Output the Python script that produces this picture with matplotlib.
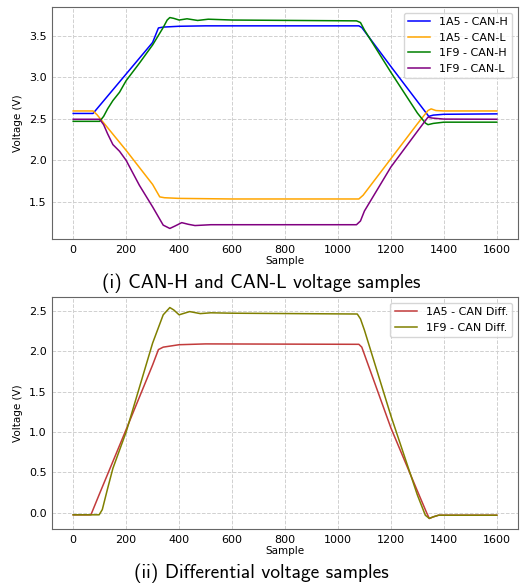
import matplotlib.pyplot as plt
import numpy as np

# samples (sample index, volts)
h1a5_x = [0, 75, 100, 200, 300, 322, 340, 400, 500, 1079, 1090, 1200, 1300, 1343, 1360, 1400, 1600]
h1a5_y = [2.565, 2.565, 2.66, 3.04, 3.42, 3.595, 3.605, 3.615, 3.62, 3.62, 3.60, 3.13, 2.71, 2.53, 2.545, 2.555, 2.56]

l1a5_x = [0, 75, 90, 200, 300, 327, 345, 400, 600, 1079, 1095, 1200, 1300, 1340, 1352, 1370, 1400, 1600]
l1a5_y = [2.595, 2.595, 2.55, 2.12, 1.71, 1.56, 1.55, 1.542, 1.535, 1.535, 1.58, 2.02, 2.44, 2.60, 2.62, 2.60, 2.595, 2.595]

h1f9_x = [0, 100, 115, 130, 150, 175, 200, 250, 300, 340, 355, 365, 380, 400, 430, 470, 510, 600, 1070,
          1085, 1100, 1200, 1300, 1330, 1340, 1360, 1400, 1600]
h1f9_y = [2.47, 2.47, 2.53, 2.62, 2.72, 2.82, 2.96, 3.17, 3.39, 3.60, 3.69, 3.72, 3.71, 3.69, 3.705, 3.685, 3.70, 3.69, 3.68,
          3.66, 3.57, 3.06, 2.57, 2.45, 2.43, 2.445, 2.46, 2.46]

l1f9_x = [0, 100, 115, 130, 150, 175, 200, 250, 300, 340, 365, 385, 410, 435, 460, 520, 1070,
          1085, 1100, 1200, 1300, 1340, 1355, 1400, 1600]
l1f9_y = [2.495, 2.495, 2.43, 2.32, 2.19, 2.11, 2.00, 1.70, 1.44, 1.22, 1.18, 1.21, 1.25, 1.23, 1.215, 1.225, 1.225,
          1.27, 1.39, 1.92, 2.35, 2.52, 2.51, 2.497, 2.495]

d1a5_x = [0, 67, 100, 200, 300, 322, 340, 360, 400, 500, 1079, 1090, 1200, 1300, 1335, 1345, 1360, 1380, 1600]
d1a5_y = [-0.025, -0.025, 0.24, 1.03, 1.83, 2.02, 2.05, 2.06, 2.08, 2.09, 2.085, 2.05, 1.05, 0.27, 0.0, -0.07, -0.05, -0.03, -0.03]

d1f9_x = [0, 98, 110, 130, 150, 200, 250, 300, 340, 365, 380, 400, 440, 480, 520, 600, 1073,
          1085, 1100, 1200, 1300, 1330, 1345, 1360, 1380, 1600]
d1f9_y = [-0.025, -0.025, 0.04, 0.30, 0.55, 1.00, 1.55, 2.10, 2.45, 2.54, 2.51, 2.45, 2.49, 2.465, 2.475, 2.47, 2.46,
          2.40, 2.26, 1.20, 0.22, -0.03, -0.07, -0.05, -0.03, -0.03]

top_series = [(h1a5_x, h1a5_y, 'blue', '1A5 - CAN-H'),
              (l1a5_x, l1a5_y, 'orange', '1A5 - CAN-L'),
              (h1f9_x, h1f9_y, 'green', '1F9 - CAN-H'),
              (l1f9_x, l1f9_y, 'purple', '1F9 - CAN-L')]
bottom_series = [(d1a5_x, d1a5_y, '#c23b3b', '1A5 - CAN Diff.'),
                 (d1f9_x, d1f9_y, 'olive', '1F9 - CAN Diff.')]

plt.rcParams['font.size'] = 8
fig = plt.figure(figsize=(5.22, 5.85), dpi=100)
ax1 = fig.add_axes([52/522, 1 - 239/585, 466/522, 232/585])
ax2 = fig.add_axes([52/522, 1 - 529/585, 466/522, 232/585])


def style(ax, series):
    for x, y, c, lab in series:
        ax.plot(x, y, color=c, lw=1.1, label=lab)
    ax.grid(True, ls='--', color='#d0d0d0', lw=0.7)
    ax.tick_params(length=0, pad=4, labelsize=8)
    for s in ax.spines.values():
        s.set_color('#666666')
    ax.set_xlabel('Sample', fontsize=7.5, labelpad=1)
    ax.set_ylabel('Voltage (V)', fontsize=7.5)
    ax.legend(loc='upper right', fontsize=8)
    ax.set_xticks(np.arange(0, 1601, 200))


style(ax1, top_series)
style(ax2, bottom_series)

fig.text(0.5, 1 - 283/585, '(i) CAN-H and CAN-L voltage samples', ha='center', va='center',
         fontsize=14, family=['cmss10', 'DejaVu Sans'])
fig.text(0.5, 1 - 573/585, '(ii) Differential voltage samples', ha='center', va='center',
         fontsize=14, family=['cmss10', 'DejaVu Sans'])

fig.savefig('out.png', dpi=100)
